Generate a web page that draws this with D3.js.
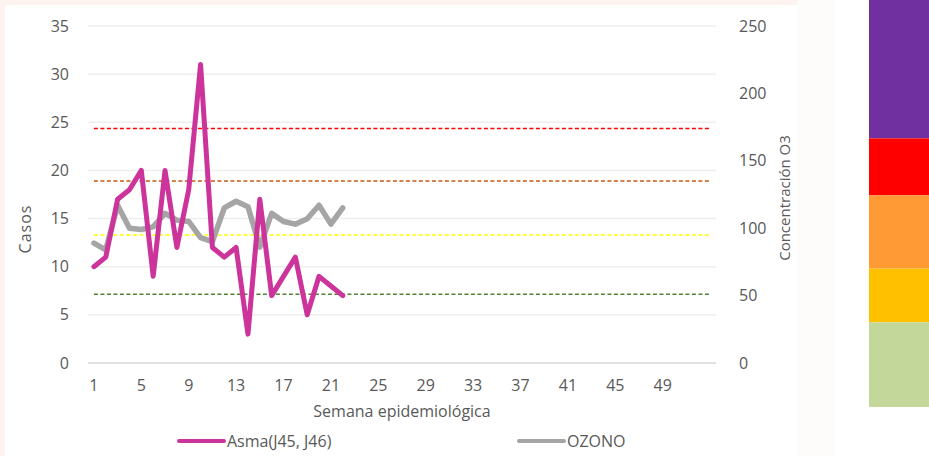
<!DOCTYPE html>
<meta charset="utf-8">
<script src="https://d3js.org/d3.v7.min.js"></script>
<style>
  body { margin: 0; background: #fff; }
  text { font-family: "Open Sans", sans-serif; fill: #595959; }
</style>
<div id="my_dataviz"></div>
<script>
  // semanas epidemiologicas (1..53)
  const weeks = d3.range(1, 54);
  const tickWeeks = [1, 5, 9, 13, 17, 21, 25, 29, 33, 37, 41, 45, 49];

  // casos de asma por semana
  const asma = [10, 11, 17, 18, 20, 9, 20, 12, 18, 31, 12, 11, 12, 3, 17, 7, 9, 11, 5, 9, 8, 7];
  // concentracion de ozono por semana
  const ozono = [89, 84, 117, 100, 99, 101, 111, 106, 105, 93, 90, 115, 120, 116, 86, 111, 105, 103, 107, 117, 103, 115];

  // umbrales (eje derecho)
  const umbrales = [174, 135, 95, 51];
  const umbralColors = ["#ff0000", "#c55a11", "#ffff00", "#548235"];

  const leftTicks = [0, 5, 10, 15, 20, 25, 30, 35];
  const rightTicks = [0, 50, 100, 150, 200, 250];

  // escala de colores lateral
  const bandLimits = [250, 165, 130, 85, 52, 0];
  const bandColors = ["#7030a0", "#ff0000", "#ff9a35", "#ffc000", "#c4d79b"];

  const W = 929, H = 456;
  const plot = { left: 88, right: 716, top: 26, bottom: 363 };

  const svg = d3.select("#my_dataviz")
    .append("svg")
    .attr("width", W)
    .attr("height", H);

  // fondo tenue
  svg.append("rect").attr("x", 0).attr("y", 0).attr("width", 800).attr("height", 5).attr("fill", "#fdf4f0");
  svg.append("rect").attr("x", 0).attr("y", 0).attr("width", 5).attr("height", H).attr("fill", "#fdf4f0");
  svg.append("rect").attr("x", 797).attr("y", 0).attr("width", 38).attr("height", H).attr("fill", "#fefcfa");

  const x = d3.scaleBand()
    .domain(weeks)
    .range([plot.left, plot.right]);
  const xc = d => x(d) + x.bandwidth() / 2;

  const yL = d3.scaleLinear().domain([0, 35]).range([plot.bottom, plot.top]);
  const yR = d3.scaleLinear().domain([0, 250]).range([plot.bottom, plot.top]);

  // gridlines
  svg.append("g")
    .selectAll("line")
    .data(leftTicks)
    .join("line")
    .attr("x1", plot.left)
    .attr("x2", plot.right)
    .attr("y1", d => yL(d))
    .attr("y2", d => yL(d))
    .attr("stroke", d => d === 0 ? "#d9d9d9" : "#eeeeee")
    .attr("stroke-width", 1.5);

  // left axis
  const gL = svg.append("g")
    .attr("transform", `translate(${plot.left - 16},0)`)
    .call(d3.axisLeft(yL).tickValues(leftTicks).tickSize(0));
  gL.select(".domain").remove();
  gL.selectAll("text").attr("font-size", 16).style("font-family", "Open Sans").attr("fill", "#595959");

  // right axis
  const gR = svg.append("g")
    .attr("transform", `translate(${plot.right + 20},0)`)
    .call(d3.axisRight(yR).tickValues(rightTicks).tickSize(0));
  gR.select(".domain").remove();
  gR.selectAll("text").attr("font-size", 16).style("font-family", "Open Sans").attr("fill", "#595959");

  // bottom axis
  const gB = svg.append("g")
    .attr("transform", `translate(0,${plot.bottom + 14})`)
    .call(d3.axisBottom(x).tickValues(tickWeeks).tickSize(0));
  gB.select(".domain").remove();
  gB.selectAll("text").attr("font-size", 16).style("font-family", "Open Sans").attr("fill", "#595959");

  // axis titles
  svg.append("text")
    .attr("transform", `translate(31,229) rotate(-90)`)
    .attr("text-anchor", "middle")
    .attr("font-size", 16)
    .attr("letter-spacing", 1)
    .text("Casos");

  svg.append("text")
    .attr("transform", `translate(790,198) rotate(-90)`)
    .attr("text-anchor", "middle")
    .attr("font-size", 15)
    .text("Concentración O3");

  svg.append("text")
    .attr("x", 402)
    .attr("y", 417)
    .attr("text-anchor", "middle")
    .attr("font-size", 16)
    .text("Semana epidemiológica");

  // threshold lines
  svg.append("g")
    .selectAll("path")
    .data(umbrales)
    .join("path")
    .attr("fill", "none")
    .attr("stroke", (d, i) => umbralColors[i])
    .attr("stroke-width", 1.4)
    .attr("stroke-dasharray", "4,2.5")
    .attr("d", v => d3.line()
      .x(d => xc(d))
      .y(() => yR(v))(weeks));

  // ozono (eje derecho)
  svg.append("path")
    .datum(ozono)
    .attr("fill", "none")
    .attr("stroke", "#a5a5a5")
    .attr("stroke-width", 5.5)
    .attr("stroke-linejoin", "round")
    .attr("stroke-linecap", "round")
    .attr("d", d3.line()
      .x((d, i) => xc(weeks[i]))
      .y(d => yR(d)));

  // asma (eje izquierdo)
  svg.append("path")
    .datum(asma)
    .attr("fill", "none")
    .attr("stroke", "#cc339b")
    .attr("stroke-width", 5)
    .attr("stroke-linejoin", "round")
    .attr("stroke-linecap", "round")
    .attr("d", d3.line()
      .x((d, i) => xc(weeks[i]))
      .y(d => yL(d)));

  // legend
  const legend = [
    { name: "Asma(J45, J46)", color: "#cc339b", x: 179 },
    { name: "OZONO", color: "#a5a5a5", x: 519 }
  ];
  const lg = svg.append("g").selectAll("g").data(legend).join("g")
    .attr("transform", d => `translate(${d.x},441)`);
  lg.append("line")
    .attr("x1", 0).attr("x2", 45)
    .attr("stroke", d => d.color)
    .attr("stroke-width", 4)
    .attr("stroke-linecap", "round");
  lg.append("text")
    .attr("x", 48)
    .attr("dy", "0.35em")
    .attr("font-size", 16)
    .text(d => d.name);

  // barra de colores
  const yBand = d3.scaleLinear().domain([0, 250]).range([407, 0]);
  svg.append("g")
    .selectAll("rect")
    .data(bandColors)
    .join("rect")
    .attr("x", 869)
    .attr("width", W - 869)
    .attr("y", (d, i) => yBand(bandLimits[i]))
    .attr("height", (d, i) => yBand(bandLimits[i + 1]) - yBand(bandLimits[i]))
    .attr("fill", d => d);
</script>
